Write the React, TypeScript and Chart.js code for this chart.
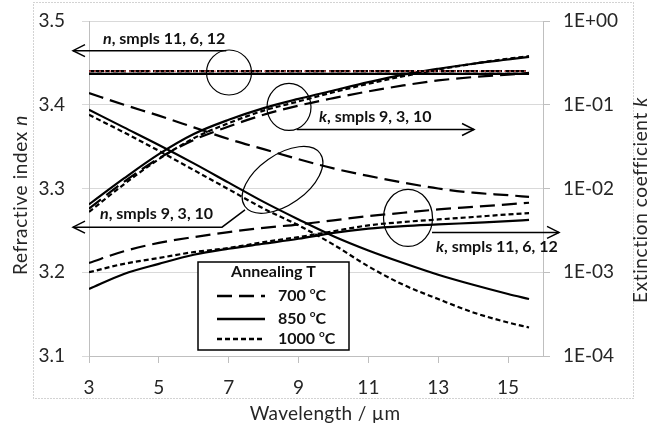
import { useEffect, useRef } from "react";
import { Chart, registerables } from "chart.js";

Chart.register(...registerables);

const FONT = 'Lato, "Open Sans", sans-serif';

// ---------- data ----------
const wavelengths = [3, 4, 5, 6, 7, 8, 9, 10, 11, 12, 13, 14, 15, 15.6];
const xTicks = [3, 5, 7, 9, 11, 13, 15];
const nTicks = [3.1, 3.2, 3.3, 3.4, 3.5];
const kTicks = [1e-4, 1e-3, 1e-2, 1e-1, 1];

// refractive index n, samples 11, 6, 12 (flat)
const nSmpl11_700 = [3.4402, 3.4402, 3.4402, 3.4402, 3.4402, 3.4402, 3.4402, 3.4402, 3.4402, 3.4402, 3.4402, 3.4402, 3.4402, 3.4402];
const nSmpl6_850 = [3.4368, 3.4368, 3.4368, 3.4368, 3.4368, 3.4368, 3.4368, 3.4368, 3.4368, 3.4368, 3.4368, 3.4368, 3.4368, 3.4368];
const nSmpl12_1000 = [3.4402, 3.4402, 3.4402, 3.4402, 3.4402, 3.4402, 3.4402, 3.4402, 3.4402, 3.4402, 3.4402, 3.4402, 3.4402, 3.4402];
const nReference = [3.4402, 3.4402, 3.4402, 3.4402, 3.4402, 3.4402, 3.4402, 3.4402, 3.4402, 3.4402, 3.4402, 3.4402, 3.4402, 3.4402];

// refractive index n, samples 9, 3, 10
const nSmpl9_700 = [3.414, 3.4, 3.387, 3.373, 3.359, 3.347, 3.335, 3.324, 3.315, 3.307, 3.3, 3.295, 3.292, 3.29];
const nSmpl3_850 = [3.394, 3.373, 3.352, 3.33, 3.307, 3.284, 3.263, 3.243, 3.226, 3.211, 3.197, 3.185, 3.174, 3.168];
const nSmpl10_1000 = [3.388, 3.367, 3.345, 3.322, 3.299, 3.276, 3.256, 3.233, 3.207, 3.185, 3.168, 3.152, 3.14, 3.134];

// extinction coefficient k, samples 9, 3, 10
const kSmpl9_700 = [0.00575, 0.012, 0.0229, 0.038, 0.055, 0.0759, 0.0977, 0.12, 0.1445, 0.17, 0.195, 0.214, 0.229, 0.24];
const kSmpl3_850 = [0.00646, 0.01318, 0.0257, 0.0447, 0.0661, 0.0912, 0.1175, 0.148, 0.186, 0.229, 0.269, 0.309, 0.347, 0.372];
const kSmpl10_1000 = [0.00525, 0.01122, 0.0224, 0.0398, 0.0603, 0.0851, 0.1096, 0.141, 0.178, 0.219, 0.263, 0.309, 0.355, 0.38];

// extinction coefficient k, samples 11, 6, 12
const kSmpl11_700 = [0.00129, 0.00178, 0.00224, 0.00263, 0.00302, 0.00339, 0.00372, 0.00417, 0.00468, 0.00513, 0.00562, 0.00603, 0.00646, 0.00676];
const kSmpl6_850 = [0.000631, 0.000955, 0.00126, 0.00162, 0.00191, 0.00219, 0.00251, 0.00295, 0.00331, 0.00355, 0.00372, 0.00389, 0.00407, 0.00422];
const kSmpl12_1000 = [0.001, 0.00126, 0.00148, 0.00174, 0.00195, 0.00229, 0.00263, 0.00309, 0.00363, 0.00398, 0.00427, 0.00457, 0.0049, 0.00507];

const legendItems = ["700", "850", "1000"];

// ---------- annotations (data units: wavelength, n) ----------
type Seg = { t: string; i?: boolean; sup?: boolean };
const annoLabels: { segs: Seg[]; wl: number; n: number }[] = [
  { segs: [{ t: "n", i: true }, { t: ", smpls 11, 6, 12" }], wl: 3.4, n: 3.4785 },
  { segs: [{ t: "k", i: true }, { t: ", smpls 9, 3, 10" }], wl: 9.586, n: 3.3854 },
  { segs: [{ t: "n", i: true }, { t: ", smpls 9, 3, 10" }], wl: 3.315, n: 3.2697 },
  { segs: [{ t: "k", i: true }, { t: ", smpls 11, 6, 12" }], wl: 12.937, n: 3.2303 },
];
const annoEllipses = [
  { wl: 7.009, n: 3.4385, rx: 22.5, ry: 22.5, rot: 0 },
  { wl: 8.727, n: 3.3974, rx: 22, ry: 23.5, rot: 0 },
  { wl: 8.541, n: 3.3103, rx: 46, ry: 25, rot: -35 },
  { wl: 12.135, n: 3.2649, rx: 24.5, ry: 28.5, rot: 0 },
];
const annoArrows: number[][][] = [
  [[6.93, 3.4646], [2.542, 3.4646]],
  [[8.948, 3.3705], [14.025, 3.3705]],
  [[7.467, 3.2745], [6.809, 3.2538], [2.542, 3.2538]],
  [[12.822, 3.2476], [16.459, 3.2476]],
];

const DASH: Record<string, number[]> = { "700": [15, 7], "850": [], "1000": [5, 3] };

function pts(arr: number[]) {
  return wavelengths.map((x, i) => ({ x, y: arr[i] }));
}

function ds(arr: number[], temp: string, axis: string, color = "#000", width = 2.2, dash?: number[], order = 0) {
  return {
    data: pts(arr),
    yAxisID: axis,
    borderColor: color,
    backgroundColor: color,
    borderWidth: width,
    borderDash: dash ?? DASH[temp],
    pointRadius: 0,
    fill: false,
    order,
    cubicInterpolationMode: "monotone" as const,
  };
}

function drawRich(ctx: CanvasRenderingContext2D, segs: Seg[], x: number, y: number, size: number, bold: boolean, align: "left" | "center", spacing = 0) {
  const fontFor = (s: Seg) => `${s.i ? "italic " : ""}${bold ? "bold " : ""}${s.sup ? Math.round(size * 0.62) : size}px ${FONT}`;
  (ctx as any).letterSpacing = spacing + "px";
  let total = 0;
  for (const s of segs) {
    ctx.font = fontFor(s);
    total += ctx.measureText(s.t).width;
  }
  let cx = align === "center" ? x - total / 2 : x;
  ctx.textBaseline = "middle";
  ctx.textAlign = "left";
  for (const s of segs) {
    ctx.font = fontFor(s);
    ctx.fillText(s.t, cx, s.sup ? y - size * 0.3 : y);
    cx += ctx.measureText(s.t).width;
  }
  (ctx as any).letterSpacing = "0px";
}

const decorPlugin = {
  id: "decor",
  beforeDraw(chart: any) {
    const ctx: CanvasRenderingContext2D = chart.ctx;
    ctx.save();
    ctx.fillStyle = "#fff";
    ctx.fillRect(0, 0, chart.width, chart.height);
    ctx.strokeStyle = "#a6a6a6";
    ctx.lineWidth = 1;
    ctx.setLineDash([1, 2]);
    ctx.strokeRect(33.5, 2.5, 600, 396);
    ctx.restore();
  },
  afterDatasetsDraw(chart: any) {
    const ctx: CanvasRenderingContext2D = chart.ctx;
    const xs = chart.scales.x;
    const ys = chart.scales.y;
    const px = (wl: number) => xs.getPixelForValue(wl);
    const py = (n: number) => ys.getPixelForValue(n);
    ctx.save();
    ctx.strokeStyle = "#000";
    ctx.fillStyle = "#000";
    ctx.lineWidth = 1.2;
    ctx.setLineDash([]);
    for (const e of annoEllipses) {
      ctx.beginPath();
      ctx.ellipse(px(e.wl), py(e.n), e.rx, e.ry, (e.rot * Math.PI) / 180, 0, Math.PI * 2);
      ctx.stroke();
    }
    ctx.lineWidth = 1.5;
    for (const a of annoArrows) {
      const p = a.map(([w, n]) => [px(w), py(n)]);
      ctx.beginPath();
      ctx.moveTo(p[0][0], p[0][1]);
      for (let i = 1; i < p.length; i++) ctx.lineTo(p[i][0], p[i][1]);
      ctx.stroke();
      const [tx, ty] = p[p.length - 1];
      const [bx, by] = p[p.length - 2];
      const ang = Math.atan2(ty - by, tx - bx);
      const L = 12, W = 6;
      const cxp = tx - L * Math.cos(ang), cyp = ty - L * Math.sin(ang);
      ctx.beginPath();
      ctx.moveTo(cxp - W * Math.sin(ang), cyp + W * Math.cos(ang));
      ctx.lineTo(tx, ty);
      ctx.lineTo(cxp + W * Math.sin(ang), cyp - W * Math.cos(ang));
      ctx.stroke();
    }
    ctx.fillStyle = "#111";
    for (const l of annoLabels) {
      drawRich(ctx, l.segs, px(l.wl), py(l.n), 16, true, "left");
    }
    ctx.restore();
  },
  afterDraw(chart: any) {
    const ctx: CanvasRenderingContext2D = chart.ctx;
    ctx.save();
    ctx.fillStyle = "#262626";
    // axis titles
    ctx.save();
    ctx.translate(21, 195);
    ctx.rotate(-Math.PI / 2);
    drawRich(ctx, [{ t: "Refractive index " }, { t: "n", i: true }], 0, 0, 19, false, "center", 0.6);
    ctx.restore();
    ctx.save();
    ctx.translate(641, 200);
    ctx.rotate(-Math.PI / 2);
    drawRich(ctx, [{ t: "Extinction coefficient " }, { t: "k", i: true }], 0, 0, 19, false, "center", 0.6);
    ctx.restore();
    ctx.fillStyle = "#fff";
    ctx.fillRect(245, 403, 160, 24);
    ctx.fillStyle = "#262626";
    drawRich(ctx, [{ t: "Wavelength / µm" }], 325, 414, 19, false, "center", 0.3);

    // legend
    const lx = 198, ly = 262, lw = 151, lh = 88;
    ctx.fillStyle = "#fff";
    ctx.fillRect(lx, ly, lw, lh);
    ctx.strokeStyle = "#000";
    ctx.lineWidth = 1.5;
    ctx.setLineDash([]);
    ctx.strokeRect(lx, ly, lw, lh);
    ctx.fillStyle = "#111";
    drawRich(ctx, [{ t: "Annealing T" }], lx + lw / 2, ly + 10, 16, true, "center");
    const rows = [ly + 34, ly + 57, ly + 77];
    legendItems.forEach((temp, i) => {
      ctx.beginPath();
      ctx.setLineDash(DASH[temp]);
      ctx.lineWidth = 2.4;
      ctx.moveTo(lx + 19, rows[i]);
      ctx.lineTo(lx + 67, rows[i]);
      ctx.stroke();
      ctx.setLineDash([]);
      drawRich(ctx, [{ t: temp + " " }, { t: "o", sup: true }, { t: "C" }], lx + 80, rows[i], 16, true, "left");
    });
    ctx.restore();
  },
};

function kLabel(v: number) {
  const e = Math.round(Math.log10(v));
  return `1E${e < 0 ? "-" : "+"}${String(Math.abs(e)).padStart(2, "0")}`;
}

export default function App() {
  const ref = useRef<HTMLCanvasElement>(null);
  useEffect(() => {
    if (!ref.current) return;
    const tickFont = { family: FONT, size: 19 };
    const chart = new Chart(ref.current, {
      type: "line",
      data: {
        datasets: [
          ds(nSmpl6_850, "850", "y"),
          ds(nSmpl11_700, "700", "y"),
          ds(nSmpl12_1000, "1000", "y"),
          ds(nReference, "1000", "y", "#e8585a", 1.4, [2, 3], -1),
          ds(nSmpl9_700, "700", "y"),
          ds(nSmpl3_850, "850", "y"),
          ds(nSmpl10_1000, "1000", "y"),
          ds(kSmpl9_700, "700", "y1"),
          ds(kSmpl3_850, "850", "y1"),
          ds(kSmpl10_1000, "1000", "y1"),
          ds(kSmpl11_700, "700", "y1"),
          ds(kSmpl6_850, "850", "y1"),
          ds(kSmpl12_1000, "1000", "y1"),
        ] as any,
      },
      options: {
        animation: false,
        responsive: false,
        maintainAspectRatio: false,
        devicePixelRatio: 1,
        layout: { padding: { top: 21, left: 0, right: 0, bottom: 0 } },
        plugins: { legend: { display: false }, tooltip: { enabled: false } },
        scales: {
          x: {
            type: "linear",
            min: 3,
            max: 16,
            afterBuildTicks: (s: any) => {
              s.ticks = xTicks.map((v) => ({ value: v }));
            },
            afterFit: (s: any) => {
              s.height = 78;
              s.paddingLeft = 0;
              s.paddingRight = 0;
            },
            grid: { drawOnChartArea: false, drawTicks: true, tickLength: 7, color: "#bfbfbf" },
            border: { color: "#bfbfbf" },
            ticks: { font: tickFont, color: "#262626", padding: 13, maxRotation: 0, autoSkip: false },
          },
          y: {
            type: "linear",
            position: "left",
            min: 3.1,
            max: 3.5,
            afterBuildTicks: (s: any) => {
              s.ticks = nTicks.map((v) => ({ value: v }));
            },
            afterFit: (s: any) => {
              s.width = 89;
              s.paddingTop = 8;
              s.paddingBottom = 8;
            },
            grid: { color: "#d9d9d9", tickLength: 7 },
            border: { color: "#bfbfbf" },
            ticks: { font: tickFont, color: "#262626", padding: 17, callback: (v: any) => Number(v).toFixed(1) },
          },
          y1: {
            type: "logarithmic",
            position: "right",
            min: 1e-4,
            max: 1,
            afterBuildTicks: (s: any) => {
              s.ticks = kTicks.map((v) => ({ value: v }));
            },
            afterFit: (s: any) => {
              s.width = 127;
              s.paddingTop = 8;
              s.paddingBottom = 8;
            },
            grid: { drawOnChartArea: false, tickLength: 7, color: "#bfbfbf" },
            border: { color: "#bfbfbf" },
            ticks: { font: tickFont, color: "#262626", padding: 13, callback: (v: any) => kLabel(Number(v)) },
          },
        },
      } as any,
      plugins: [decorPlugin],
    });
    return () => chart.destroy();
  }, []);
  return (
    <div style={{ position: "fixed", left: 0, top: 0, width: 670, height: 434, background: "#fff" }}>
      <canvas ref={ref} width={670} height={434} style={{ display: "block" }} />
    </div>
  );
}
